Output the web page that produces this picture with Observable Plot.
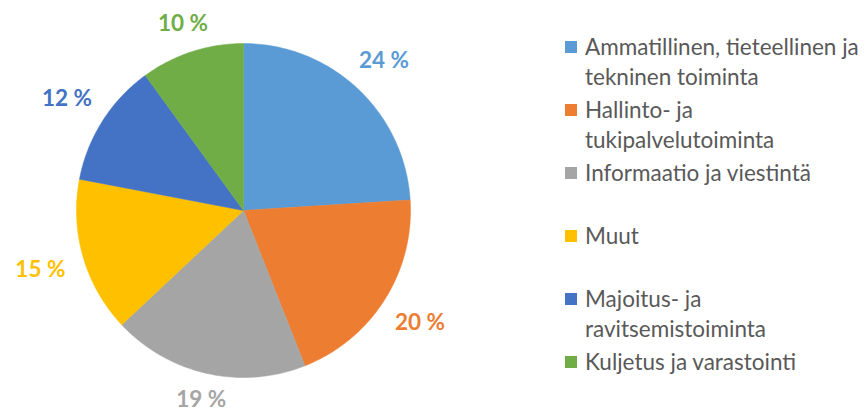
<!DOCTYPE html>
<html>
<head>
<meta charset="utf-8">
<script src="https://cdn.jsdelivr.net/npm/d3@7"></script>
<script src="https://cdn.jsdelivr.net/npm/@observablehq/plot@0.6"></script>
<style>
  html, body { margin: 0; padding: 0; background: #fff; }
  #wrap { position: relative; width: 866px; height: 412px; overflow: hidden; font-family: Lato, "Open Sans", sans-serif; }
  #chart { position: absolute; left: 0; top: 0; }
  #legend { position: absolute; left: 565px; top: 32px; width: 301px; }
  .item { position: relative; height: 63px; }
  .sw { position: absolute; left: 0; top: 9px; width: 12px; height: 12px; }
  .lab { position: absolute; left: 20px; top: 0; white-space: nowrap; font-size: 22.5px; line-height: 30px; color: #595959; }
</style>
</head>
<body>
<div id="wrap">
  <div id="chart"></div>
  <div id="legend"></div>
</div>
<script>
const categories = [
  "Ammatillinen, tieteellinen ja tekninen toiminta",
  "Hallinto- ja tukipalvelutoiminta",
  "Informaatio ja viestintä",
  "Muut",
  "Majoitus- ja ravitsemistoiminta",
  "Kuljetus ja varastointi"
];
const values = [24, 20, 19, 15, 12, 10];
const colors = ["#5B9BD5", "#ED7D31", "#A5A5A5", "#FFC000", "#4472C4", "#70AD47"];
const labels = values.map(v => v + " %");
const legendLines = [
  ["Ammatillinen, tieteellinen ja", "tekninen toiminta"],
  ["Hallinto- ja", "tukipalvelutoiminta"],
  ["Informaatio ja viestintä"],
  ["Muut"],
  ["Majoitus- ja", "ravitsemistoiminta"],
  ["Kuljetus ja varastointi"]
];

// layout
const W = 520, H = 412, cx = 243, cy = 210, R = 167;

const total = d3.sum(values);
const slices = [];
const labelRows = [];
let acc = 0;
values.forEach((v, i) => {
  const a0 = acc / total * 2 * Math.PI;
  acc += v;
  const a1 = acc / total * 2 * Math.PI;
  const n = Math.max(2, Math.ceil((a1 - a0) / (Math.PI / 180)));
  slices.push({cat: categories[i], x: 0, y: 0});
  for (let k = 0; k <= n; k++) {
    const a = a0 + (a1 - a0) * k / n;
    slices.push({cat: categories[i], x: Math.sin(a), y: Math.cos(a)});
  }
  slices.push({cat: categories[i], x: 0, y: 0});
  const am = (a0 + a1) / 2;
  const s = Math.sin(am), c = Math.cos(am);
  const d = (R + 19 + Math.abs(s) * 26 + Math.abs(c) * 2) / R;
  labelRows.push({cat: categories[i], label: labels[i], x: s * d, y: c * d});
});

const plot = Plot.plot({
  width: W,
  height: H,
  margin: 0,
  x: {domain: [-cx / R, (W - cx) / R], axis: null},
  y: {domain: [-(H - cy) / R, cy / R], axis: null},
  color: {domain: categories, range: colors},
  style: {background: "transparent", overflow: "visible"},
  marks: [
    Plot.line(slices, {x: "x", y: "y", z: "cat", fill: "cat", stroke: "cat", strokeWidth: 0.5, curve: "linear-closed"}),
    Plot.text(labelRows, {x: "x", y: "y", text: "label", fill: "cat", fontSize: 22.5, fontWeight: "bold", fontFamily: "Lato, 'Open Sans', sans-serif"})
  ]
});
document.getElementById("chart").appendChild(plot);

const legend = d3.select("#legend");
categories.forEach((cat, i) => {
  const item = legend.append("div").attr("class", "item");
  item.append("div").attr("class", "sw").style("background", colors[i]);
  const lab = item.append("div").attr("class", "lab");
  legendLines[i].forEach((t, j) => {
    if (j) lab.append("br");
    lab.append("span").text(t);
  });
});
</script>
</body>
</html>
